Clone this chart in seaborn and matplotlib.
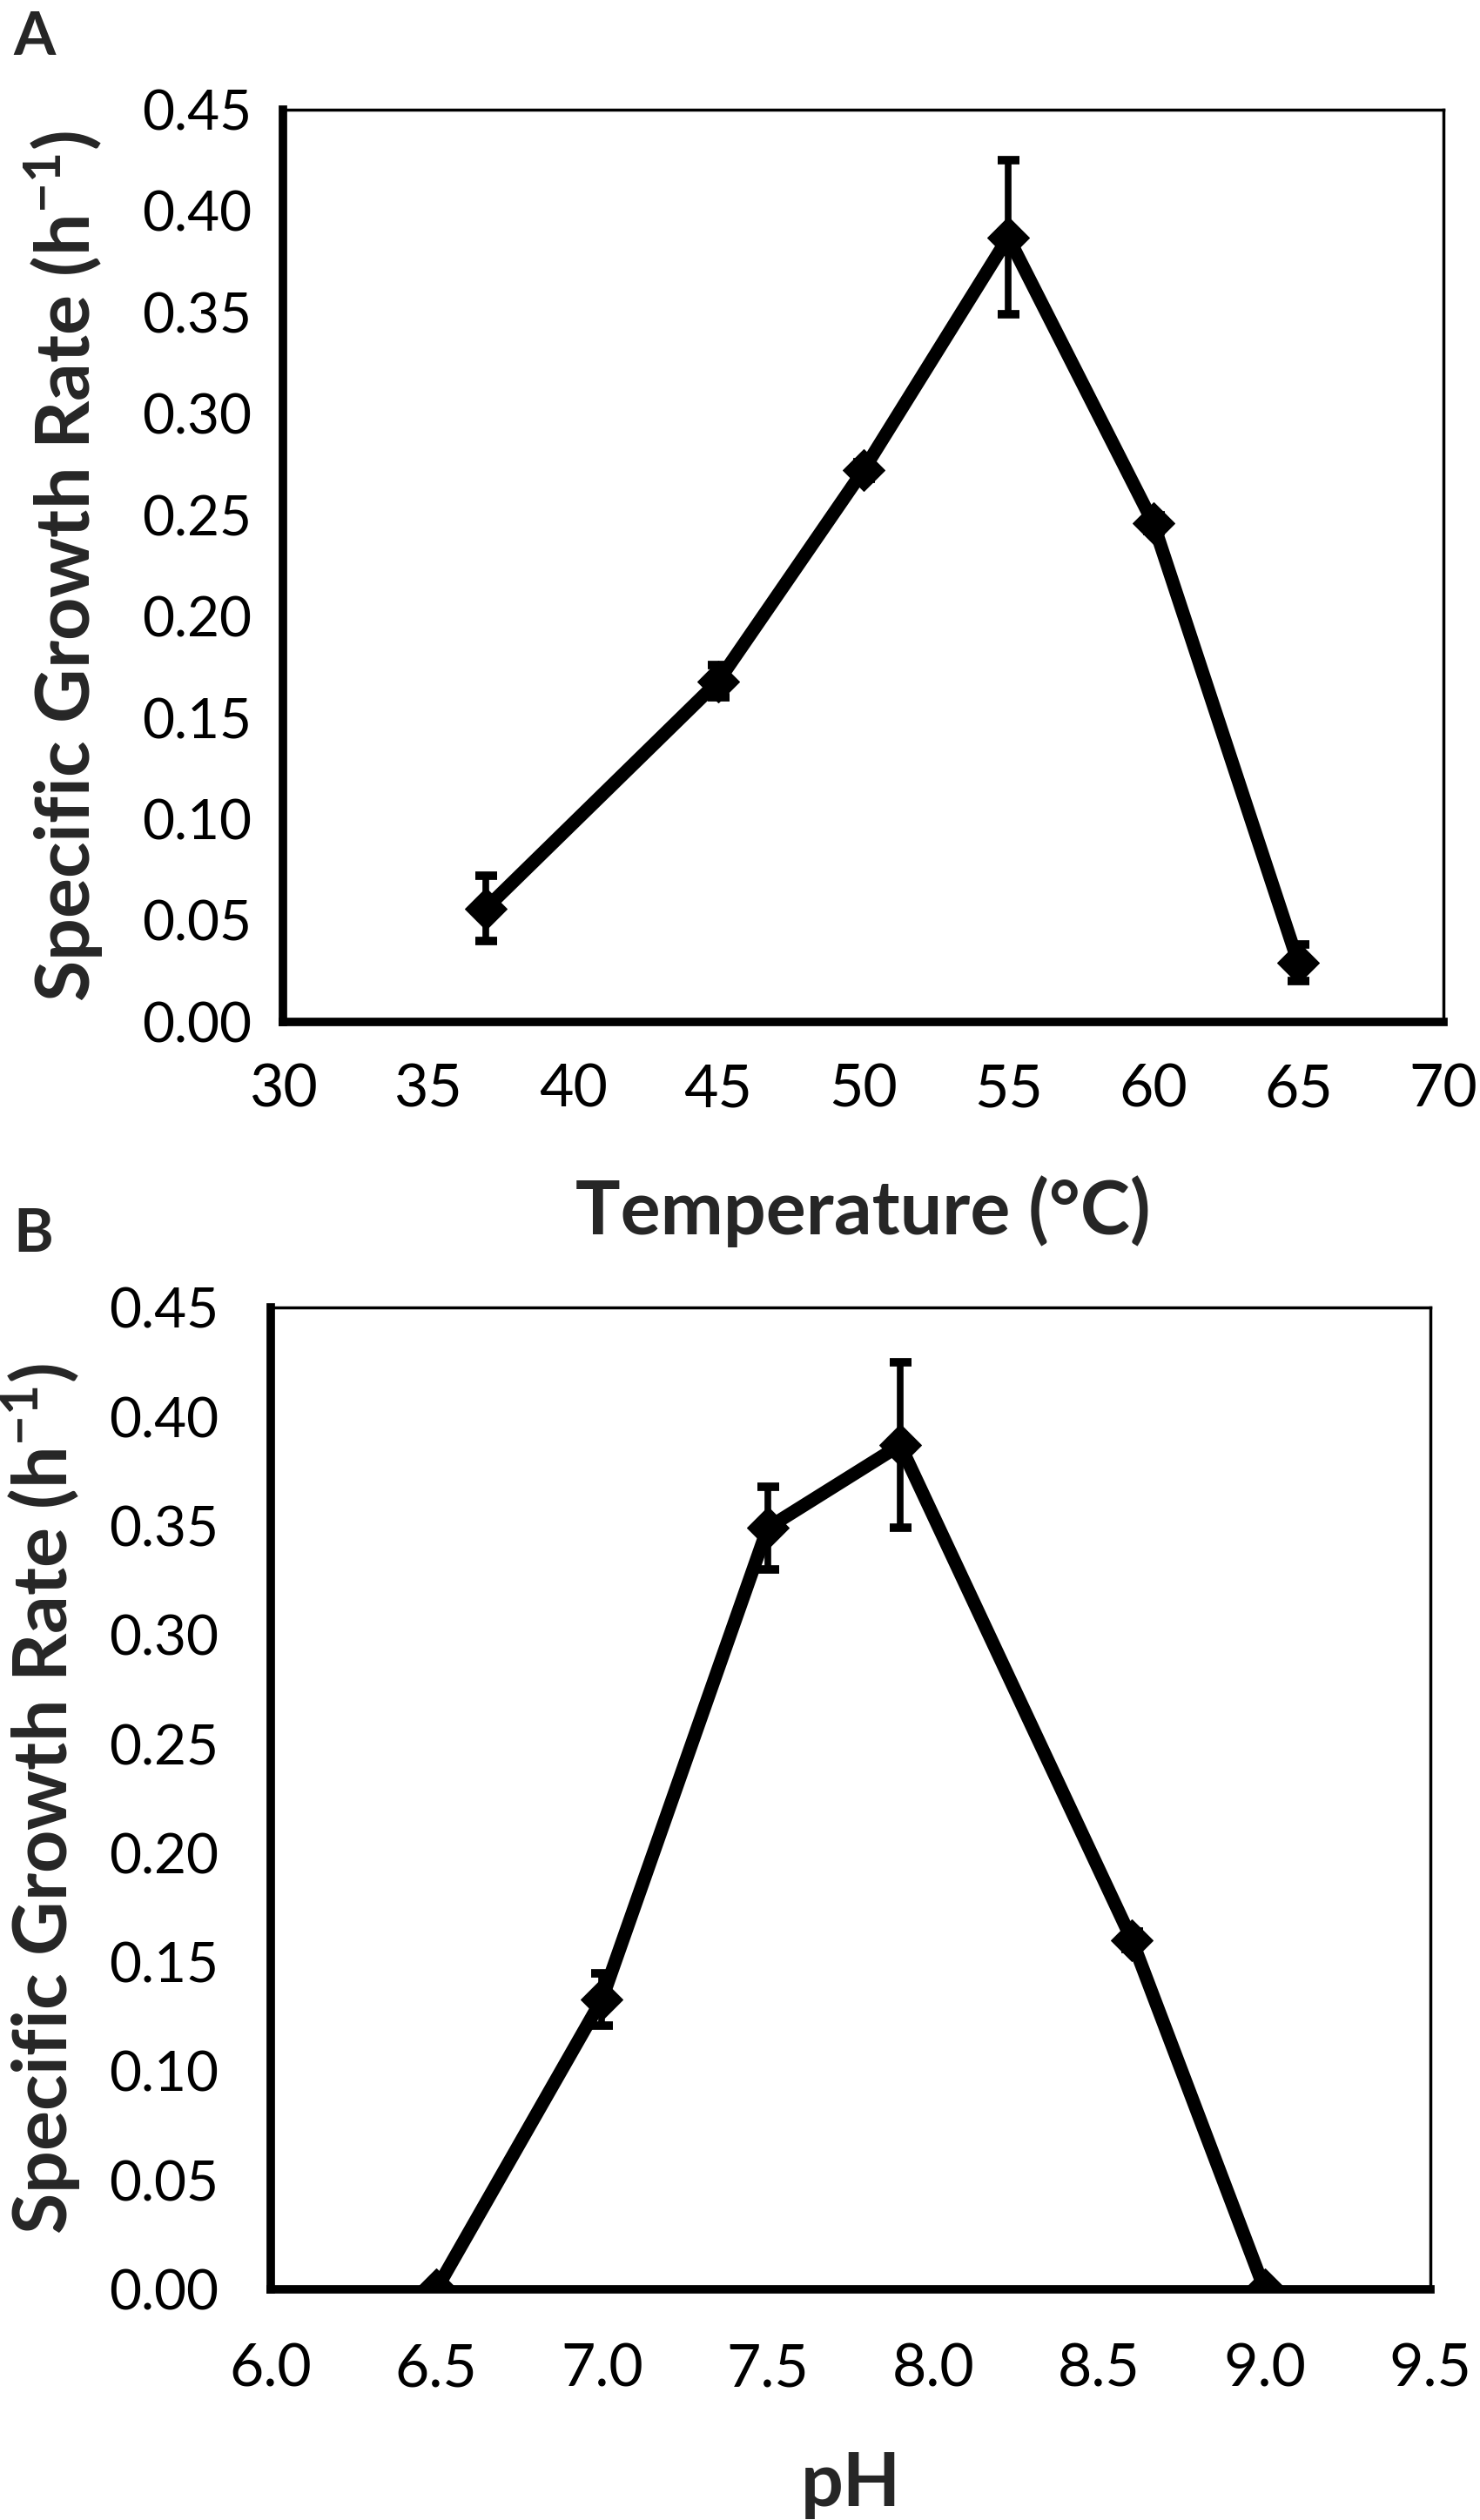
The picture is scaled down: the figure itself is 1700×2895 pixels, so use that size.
import matplotlib
matplotlib.use("Agg")
import matplotlib.pyplot as plt
import numpy as np
import pandas as pd
import seaborn as sns

# panel A: temperature
temp = [37, 45, 50, 55, 60, 65]
rate_temp = [0.056, 0.168, 0.272, 0.387, 0.246, 0.029]
err_temp = [0.016, 0.008, 0.004, 0.038, 0.004, 0.009]

# panel B: pH
ph = [6.5, 7.0, 7.5, 7.9, 8.6, 9.0]
rate_ph = [0.0, 0.133, 0.349, 0.387, 0.160, 0.0]
err_ph = [0.0, 0.012, 0.019, 0.038, 0.004, 0.0]

y_ticks = np.arange(0, 0.451, 0.05)
temp_ticks = np.arange(30, 71, 5)
ph_ticks = np.arange(6.0, 9.51, 0.5)

sns.set_style("white")
plt.rcParams["font.family"] = ["Lato", "DejaVu Sans"]
plt.rcParams["mathtext.fontset"] = "custom"
plt.rcParams["mathtext.rm"] = "Lato"
plt.rcParams["mathtext.bf"] = "Lato:bold"

tempDF = pd.DataFrame({"x": temp, "y": rate_temp})
phDF = pd.DataFrame({"x": ph, "y": rate_ph})

fig = plt.figure(figsize=(17, 28.95), dpi=100)
axA = fig.add_axes([0.1912, 0.5945, 0.7841, 0.3620])
axB = fig.add_axes([0.1829, 0.0915, 0.7835, 0.3896])

ylab = r"Specific Growth Rate (h$^{\mathbf{-1}}$)"


def draw(ax, df, err, xlim, xticks, xfmt, xlabel, ypad, xpad, ylab_x, xlab_y):
    ax.errorbar(df["x"], df["y"], yerr=err, fmt="none", ecolor="black",
                elinewidth=5.5, capsize=9, capthick=7, zorder=2)
    sns.lineplot(data=df, x="x", y="y", ax=ax, color="black", linewidth=11,
                 marker="D", markersize=24, markeredgecolor="black",
                 markerfacecolor="black", zorder=3)
    ax.set_xlim(*xlim)
    ax.set_ylim(0, 0.45)
    ax.set_xticks(xticks)
    ax.set_yticks(y_ticks)
    ax.set_xticklabels([xfmt % t for t in xticks])
    ax.set_yticklabels(["%.2f" % t for t in y_ticks])
    for s in ["left", "bottom"]:
        ax.spines[s].set_linewidth(7)
    for s in ["top", "right"]:
        ax.spines[s].set_linewidth(2.5)
    for s in ax.spines.values():
        s.set_color("black")
    ax.tick_params(axis="both", direction="out", length=15, width=7,
                   colors="black")
    ax.tick_params(axis="y", pad=ypad, labelsize=46)
    ax.tick_params(axis="x", pad=xpad, labelsize=49)
    ax.set_xlabel(xlabel, fontsize=62, fontweight="bold", va="top")
    ax.set_ylabel(ylab, fontsize=62, fontweight="bold")
    ax.yaxis.set_label_coords(ylab_x, 0.5)
    ax.xaxis.set_label_coords(0.5, xlab_y)


draw(axA, tempDF, err_temp, (30, 70), temp_ticks, "%d", "Temperature (°C)",
     11, 19, -0.153, -0.168)
draw(axB, phDF, err_ph, (6.0, 9.5), ph_ticks, "%.1f", "pH",
     28, 29, -0.162, -0.164)

fig.text(0.009, 0.996, "A", fontsize=50, fontweight="bold", va="top")
fig.text(0.009, 0.521, "B", fontsize=50, fontweight="bold", va="top")

fig.savefig("out.png", dpi=100, facecolor="white")
